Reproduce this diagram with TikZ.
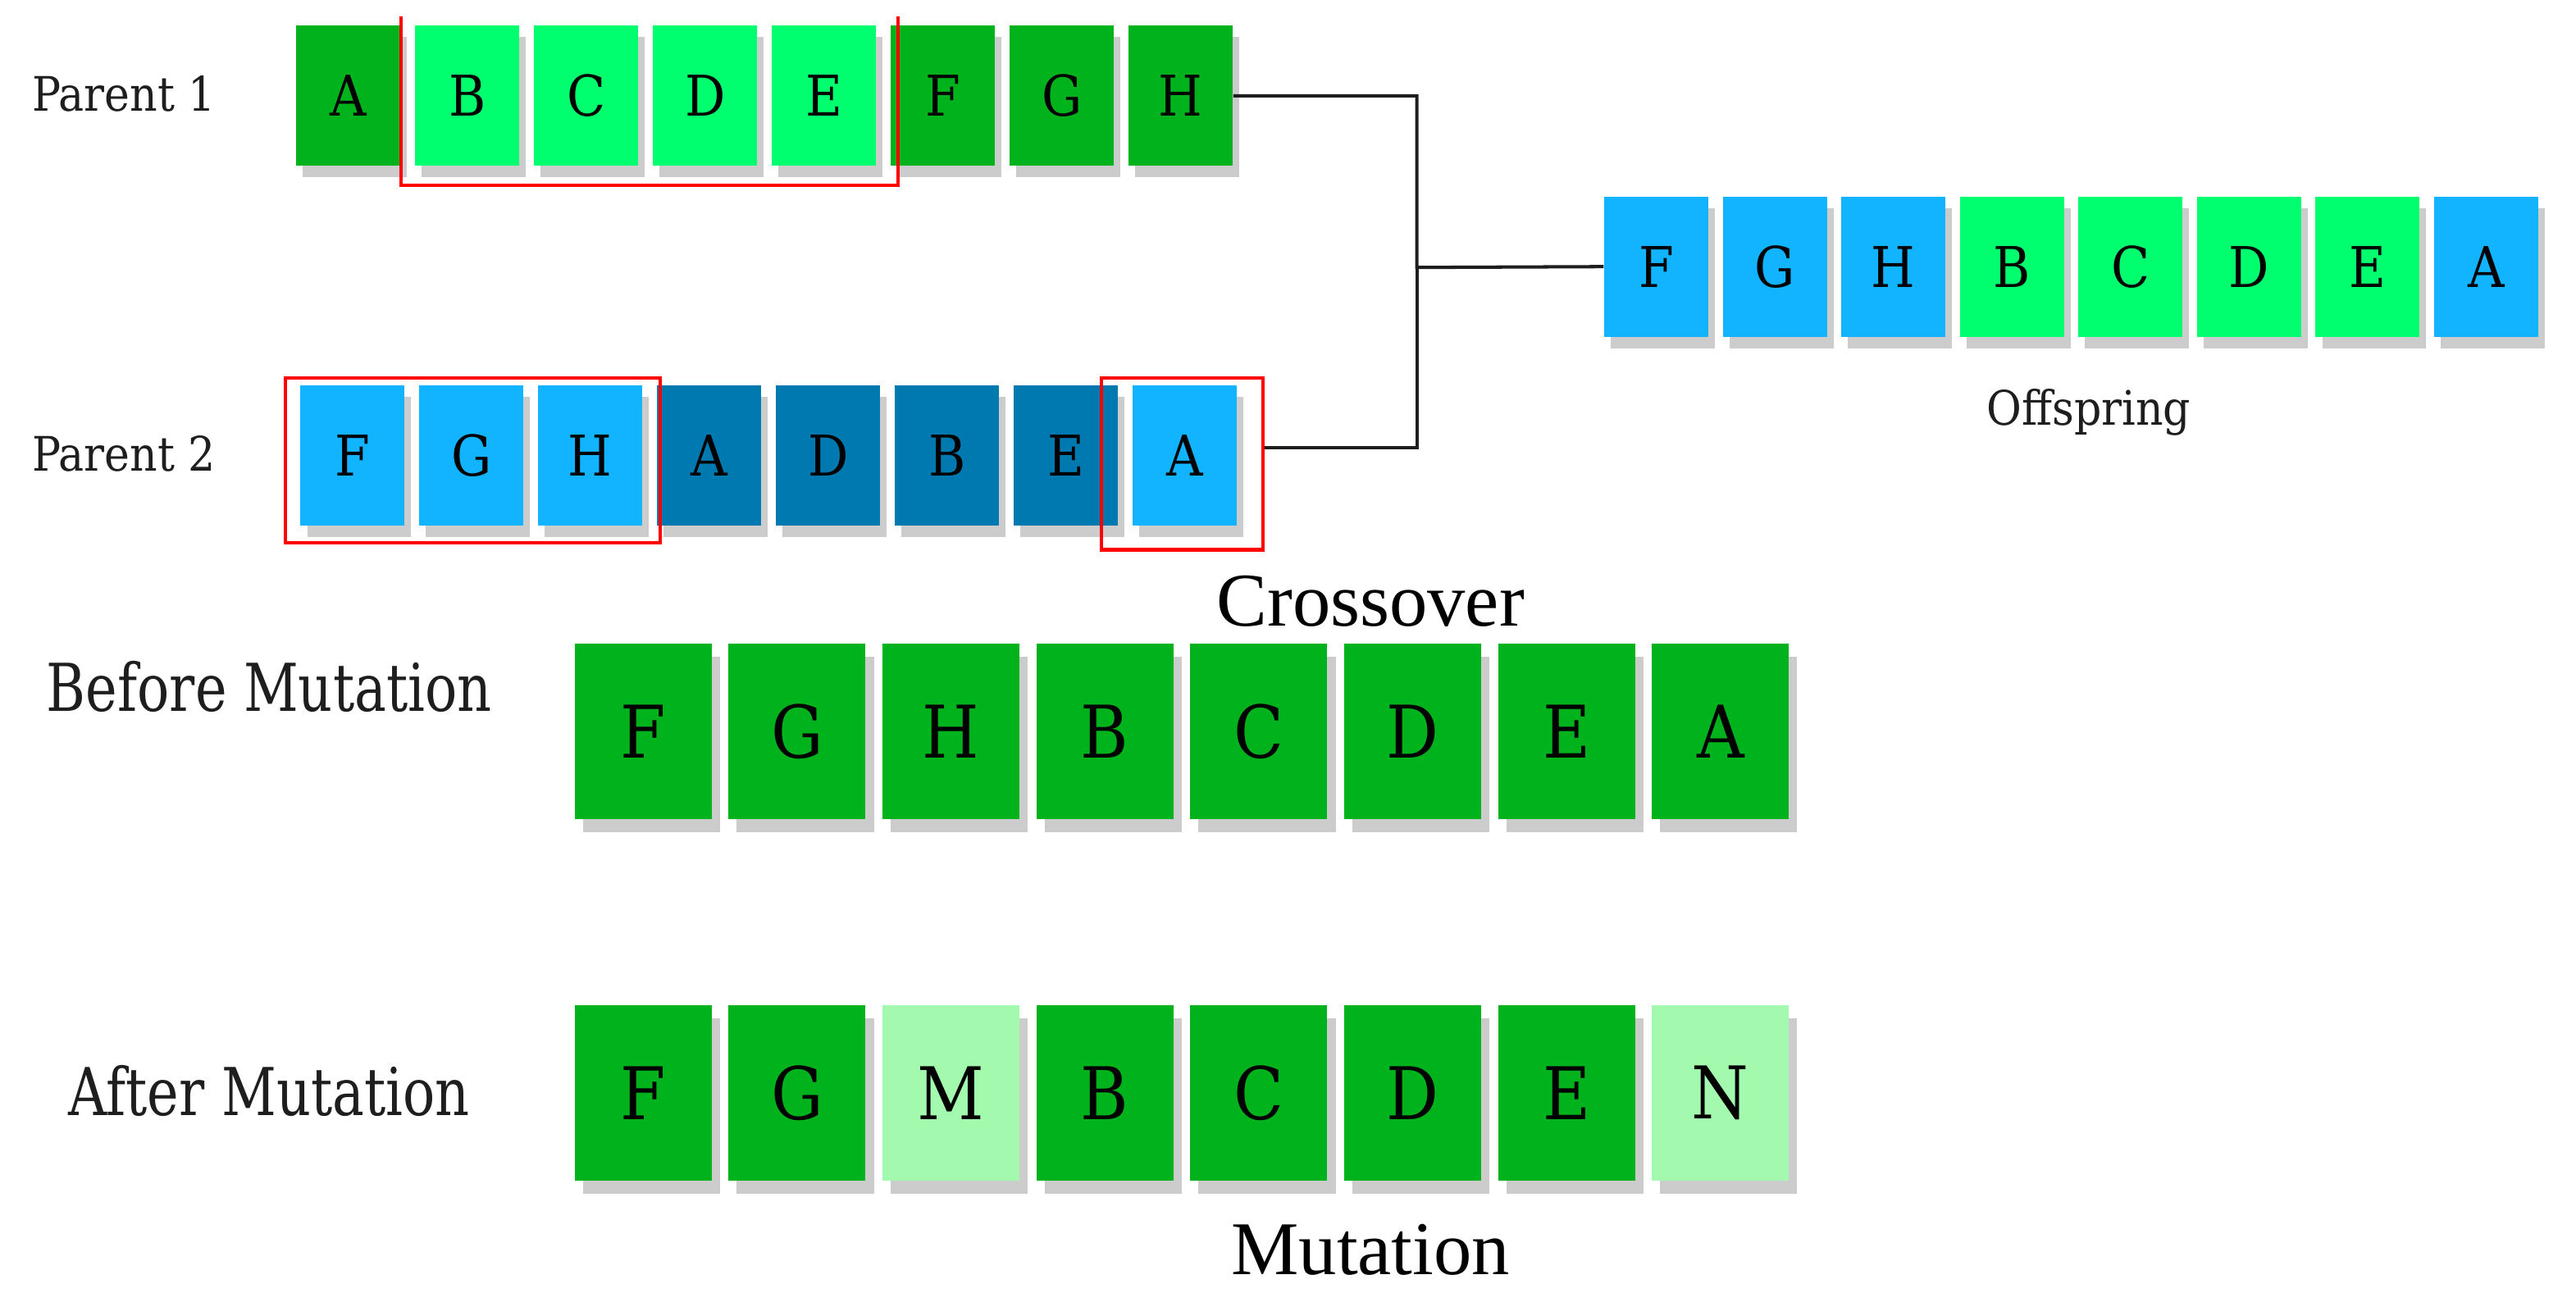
\documentclass[tikz,border=0pt]{standalone}
\usepackage{fontspec}
\setmainfont{DejaVu Serif}
\newfontfamily\condf{DejaVu Serif Condensed}
\newfontfamily\narrowf[FakeStretch=0.9]{DejaVu Serif Condensed}
\newfontfamily\timesf{Liberation Serif}
\usetikzlibrary{shadows}
\definecolor{dg}{HTML}{00B21C}
\definecolor{bg}{HTML}{00FF6E}
\definecolor{lb}{HTML}{12B3FF}
\definecolor{db}{HTML}{0078B0}
\definecolor{lg}{HTML}{A3F9AE}
\definecolor{shd}{HTML}{CCCCCC}
\definecolor{txt}{HTML}{1E1E1E}
\tikzset{
  cell/.style={minimum width=31.5pt, minimum height=42.5pt, inner sep=0pt,
    font=\condf\fontsize{17}{20}\selectfont,
    drop shadow={shadow xshift=2pt, shadow yshift=-3.5pt, fill=shd, opacity=1}},
  bigcell/.style={minimum width=41.5pt, minimum height=53pt, inner sep=0pt,
    font=\condf\fontsize{22}{26}\selectfont,
    drop shadow={shadow xshift=2.5pt, shadow yshift=-4pt, fill=shd, opacity=1}},
  redbox/.style={draw=red, line width=1pt, inner sep=0pt},
  conn/.style={draw=txt, line width=1pt},
  lab/.style={text=txt, font=\condf\fontsize{14.4}{17}\selectfont},
  biglab/.style={text=txt, font=\narrowf\fontsize{20}{24}\selectfont},
  title/.style={text=black, font=\timesf\fontsize{23}{27}\selectfont}
}
\begin{document}
\begin{tikzpicture}[x=0.5pt,y=-0.5pt]
\useasboundingbox (0,0) rectangle (1560,783.2);
% labels
\node[lab] (lp1) at (75,57) {Parent 1};
\node[lab] (lp2) at (75,275) {Parent 2};
\node[lab] (loff) at (1265,250) {Offspring};
\node[biglab] (lbm) at (163,416) {Before Mutation};
\node[biglab] (lam) at (163,661) {After Mutation};
\node[title] (tcross) at (830,364) {Crossover};
\node[title] (tmut) at (830,757) {Mutation};
% parent 1
\foreach \l/\c [count=\i] in {A/dg,B/bg,C/bg,D/bg,E/bg,F/dg,G/dg,H/dg}
  \node[cell, fill=\c] (pa\i) at ({211+72*(\i-1)},58) {\l};
% parent 2
\foreach \l/\c [count=\i] in {F/lb,G/lb,H/lb,A/db,D/db,B/db,E/db,A/lb}
  \node[cell, fill=\c] (pb\i) at ({213.5+72*(\i-1)},276) {\l};
% offspring
\foreach \l/\c [count=\i] in {F/lb,G/lb,H/lb,B/bg,C/bg,D/bg,E/bg,A/lb}
  \node[cell, fill=\c] (of\i) at ({1003+71.8*(\i-1)},161.5) {\l};
% before mutation
\foreach \l/\c [count=\i] in {F/dg,G/dg,H/dg,B/dg,C/dg,D/dg,E/dg,A/dg}
  \node[bigcell, fill=\c] (bm\i) at ({389.5+93.2*(\i-1)},443) {\l};
% after mutation
\foreach \l/\c [count=\i] in {F/dg,G/dg,M/lg,B/dg,C/dg,D/dg,E/dg,N/lg}
  \node[bigcell, fill=\c] (am\i) at ({389.5+93.2*(\i-1)},662) {\l};
% red selections
\draw[red, line width=1pt] (243,10) -- (243,112) -- (544,112) -- (544,10);
\node[redbox, minimum width=113.5pt, minimum height=50pt] (rb2) at (286.5,279) {};
\node[redbox, minimum width=49pt, minimum height=52pt] (rb3) at (716,281) {};
% connectors
\coordinate (j) at (858,162);
\draw[conn] (pa8.east) -| (j) -- (of1.west);
\draw[conn] ([yshift=5pt]rb3.east) -| (j);
\end{tikzpicture}
\end{document}
